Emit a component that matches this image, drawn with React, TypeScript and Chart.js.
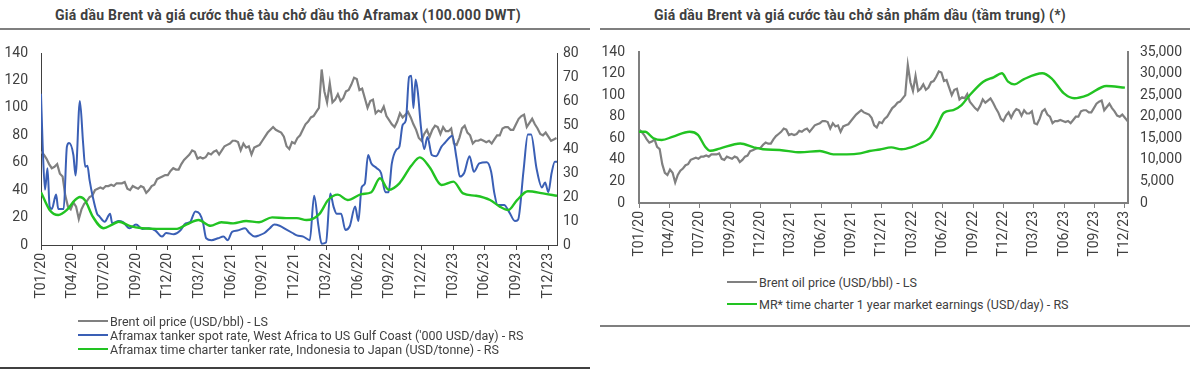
import React, { useEffect, useRef } from 'react';
import { Chart, registerables } from 'chart.js';

Chart.register(...registerables);

// ---------- data ----------
const tickLabels = ['T01/20', 'T04/20', 'T07/20', 'T09/20', 'T12/20', 'T03/21', 'T06/21', 'T09/21', 'T12/21', 'T03/22', 'T06/22', 'T09/22', 'T12/22', 'T03/23', 'T06/23', 'T09/23', 'T12/23'];
const tickStepMonths = 47 / 16; // months between labelled ticks (T01/20 .. T12/23)

const brentLeftTicks = [0, 20, 40, 60, 80, 100, 120, 140];
const aframaxRightTicks = [0, 10, 20, 30, 40, 50, 60, 70, 80];
const mrRightTicks = [0, 5000, 10000, 15000, 20000, 25000, 30000, 35000];

// Brent oil price (USD/bbl), weekly, Jan 2020 - Dec 2023 (4 readings per month)
const brentWeekly = [
  68, 66, 63, 59, 56, 57, 59, 52, 50, 36, 28, 26, 31, 28, 19, 26, 30, 32, 35, 36, 40, 41, 42, 41,
  43, 43, 44, 43, 45, 45, 45, 46, 41, 40, 43, 42, 41, 43, 42, 38, 40, 43, 44, 48, 49, 50, 51, 51,
  54, 56, 55, 55, 59, 62, 64, 66, 69, 68, 63, 64, 63, 64, 67, 66, 68, 69, 66, 69, 72, 73, 74, 76,
  76, 75, 69, 74, 71, 72, 66, 71, 72, 73, 76, 79, 82, 84, 86, 84, 83, 82, 79, 72, 70, 75, 74, 78,
  80, 84, 88, 90, 93, 94, 97, 100, 128, 112, 104, 118, 104, 106, 110, 105, 107, 112, 113, 117, 122, 121, 113, 114,
  107, 100, 105, 106, 96, 98, 97, 101, 94, 91, 88, 86, 90, 96, 93, 95, 97, 93, 88, 84, 78, 76, 81, 84,
  79, 84, 87, 86, 81, 86, 83, 83, 85, 74, 73, 78, 85, 87, 82, 80, 74, 76, 76, 77, 76, 75, 76, 74,
  77, 80, 80, 85, 86, 86, 84, 84, 88, 92, 94, 95, 86, 89, 92, 88, 85, 81, 80, 82, 79, 76, 77, 78,
];
const brentPerMonth = 4;

// Aframax spot rate WAF-USG ('000 USD/day), month offset from Jan 2020 and value
const spotMonths = [
  0, 0.15, 0.37, 0.6, 0.8, 1.0, 1.4, 1.6, 2.1, 2.4, 2.6, 3.0, 3.2, 3.6, 3.9, 4.1, 4.3, 4.5, 4.8, 5.2,
  5.4, 5.9, 6.4, 6.6, 7.2, 7.6, 8.2, 8.8, 9.4, 10.0, 10.6, 11.2, 11.6, 12.3, 12.9, 13.4, 13.8, 14.3, 14.7, 15.0,
  15.3, 15.8, 16.4, 16.9, 17.3, 17.7, 18.2, 18.9, 19.3, 19.8, 20.2, 20.7, 21.2, 21.6, 22.1, 22.7, 23.3, 23.7, 24.3, 24.9,
  25.3, 25.7, 26.0, 26.4, 26.8, 27.1, 27.4, 27.8, 28.2, 28.6, 29.1, 29.4, 29.7, 30.0, 30.3, 30.6, 31.1, 31.5, 31.9, 32.2,
  32.5, 32.9, 33.2, 33.5, 33.8, 34.1, 34.3, 34.5, 34.7, 34.9, 35.2, 35.5, 35.8, 36.2, 36.6, 37.1, 37.4, 37.9, 38.1, 38.5,
  38.8, 39.2, 39.7, 40.1, 40.6, 41.3, 41.7, 42.0, 42.3, 42.9, 43.4, 43.9, 44.2, 44.7, 45.1, 45.4, 45.9, 46.4, 46.7, 47.0,
  47.3, 47.6, 47.8,
];
const spotValues = [
  63, 42, 23, 32, 16, 15, 21, 15, 15, 41, 42.5, 37.5, 29, 60, 42.5, 32.6, 33, 27, 20, 13,
  12, 9.7, 13, 9, 10, 9.5, 7, 8.5, 6.7, 7, 6, 3.5, 5, 4.5, 6, 9, 9.5, 14, 13, 9.5,
  2.8, 2, 2.8, 3.5, 2, 5.5, 6, 7, 5, 3.5, 4, 5, 7, 8.5, 8, 6.5, 5, 4, 3.5, 2,
  20.5, 8, 0.5, 1, 21.5, 16, 13, 13, 6.3, 7.8, 16, 10, 24, 25.6, 37.5, 34, 32, 30, 22, 22,
  34, 39.6, 41, 50, 52, 70, 70.5, 57, 69, 64, 49, 40, 45, 37.5, 37, 41, 42.5, 45, 45.5, 36,
  28.5, 30, 37, 30.5, 34, 34.5, 30.5, 21.5, 16.7, 16.7, 13.5, 10, 10.6, 31, 46, 46, 32, 24, 26, 22,
  30, 34.7, 34.7,
];

// Aframax time charter rate Indonesia-Japan (USD/tonne)
const tcMonths = [
  0, 0.8, 1.6, 2.4, 3.1, 3.6, 4.1, 4.8, 5.8, 6.6, 7.2, 8.2, 9.4, 11.3, 12.6, 13.5, 14.6, 15.7, 16.7, 17.8,
  19.0, 20.2, 21.4, 22.7, 23.7, 24.6, 25.8, 26.6, 27.5, 28.4, 29.7, 30.6, 31.4, 32.2, 33.2, 34.3, 35.1, 36.0, 37.1, 38.2,
  39.1, 40.3, 41.6, 42.5, 43.3, 44.1, 45.1, 46.5, 47.8,
];
const tcValues = [
  22, 14.6, 12.5, 14.6, 18.5, 20, 18.5, 11.8, 7, 8.5, 9.7, 8, 7, 6.7, 6.7, 8.6, 10.4, 8, 9.5, 9,
  10, 9.5, 11.5, 11.2, 11.2, 10.4, 13, 18.75, 21, 18.75, 21.2, 22, 27.8, 23, 25.7, 33, 36.5, 32.4, 25, 26.4,
  21.5, 20.5, 18.75, 16, 14.6, 18.7, 22.4, 21.5, 20.5,
];

// MR time charter 1 year market earnings (USD/day)
const mrMonths = [
  0, 0.6, 1.4, 2.2, 3.3, 4.9, 5.7, 6.4, 6.9, 7.8, 9.8, 11.1, 12.0, 13.6, 15.6, 17.5, 18.8, 20.1, 21.4, 22.3,
  23.3, 24.4, 25.4, 26.3, 27.2, 28.1, 28.8, 29.5, 30.4, 31.2, 32.0, 33.3, 34.3, 35.1, 35.7, 36.3, 37.2, 39.0, 39.9, 41.1,
  42.1, 43.4, 45.2, 47.0,
];
const mrValues = [
  16500, 16500, 15000, 14600, 15400, 16500, 15800, 13050, 12100, 12600, 13800, 12900, 12450, 12300, 11750, 12050, 11280, 11280, 11500, 12050,
  12400, 12900, 12450, 12900, 13800, 15000, 17700, 20930, 21550, 22700, 25030, 28120, 29130, 30060, 28120, 27500, 28670, 30060, 28900, 25400,
  24270, 25030, 27120, 26730,
];

// ---------- styles ----------
const FONT = 'Roboto, "Noto Sans", sans-serif';
const TEXT = '#404040';
const GRAY = '#7f7f7f';
const BLUE = '#3a5fb5';
const GREEN = '#22c322';

const brentPoints = brentWeekly.map((v, i) => ({ x: i / brentPerMonth, y: v }));
const pairs = (xs: number[], ys: number[]) => xs.map((x, i) => ({ x, y: ys[i] }));

function xAxis(max: number, height: number, axisColor: string, axisWidth: number) {
  return {
    type: 'linear',
    min: 0,
    max,
    afterBuildTicks: (s: any) => {
      s.ticks = tickLabels.map((_, k) => ({ value: k * tickStepMonths }));
    },
    afterFit: (s: any) => {
      s.height = height;
    },
    ticks: {
      autoSkip: false,
      minRotation: 90,
      maxRotation: 90,
      padding: 3,
      color: TEXT,
      font: { family: FONT, size: 14 },
      callback: (_v: any, i: number) => tickLabels[i],
    },
    grid: { display: true, drawOnChartArea: false, drawTicks: true, tickLength: 5, color: axisColor, lineWidth: 1 },
    border: { display: true, color: axisColor, width: axisWidth },
  };
}

function yAxis(position: string, max: number, ticks: number[], width: number, padding: number, axisColor: string, axisWidth: number, fmt?: (v: number) => string) {
  return {
    type: 'linear',
    position,
    min: 0,
    max,
    afterBuildTicks: (s: any) => {
      s.ticks = ticks.map((v) => ({ value: v }));
    },
    afterFit: (s: any) => {
      s.width = width;
      s.paddingTop = 0;
      s.paddingBottom = 0;
    },
    ticks: {
      padding,
      color: TEXT,
      font: { family: FONT, size: 14 },
      callback: (v: any) => (fmt ? fmt(v) : String(v)),
    },
    grid: { display: false, drawTicks: false, drawOnChartArea: false },
    border: { display: true, color: axisColor, width: axisWidth },
  };
}

const leftConfig: any = {
  type: 'line',
  data: {
    datasets: [
      { label: 'Brent oil price (USD/bbl) - LS', data: brentPoints, yAxisID: 'y', borderColor: '#808080', borderWidth: 2.2, pointRadius: 0, tension: 0, order: 3 },
      { label: "Aframax tanker spot rate, West Africa to US Gulf Coast ('000 USD/day) - RS", data: pairs(spotMonths, spotValues), yAxisID: 'y1', borderColor: BLUE, borderWidth: 2, pointRadius: 0, cubicInterpolationMode: 'monotone', order: 2 },
      { label: 'Aframax time charter tanker rate, Indonesia to Japan (USD/tonne) - RS', data: pairs(tcMonths, tcValues), yAxisID: 'y1', borderColor: GREEN, borderWidth: 2.4, pointRadius: 0, cubicInterpolationMode: 'monotone', order: 1 },
    ],
  },
  options: {
    responsive: false,
    animation: false,
    layout: { padding: { top: 13, left: 0, right: 0, bottom: 0 } },
    plugins: { legend: { display: false }, title: { display: false }, tooltip: { enabled: false } },
    scales: {
      x: xAxis(47.8, 70, '#404040', 1),
      y: yAxis('left', 140, brentLeftTicks, 41, 13, '#404040', 1),
      y1: yAxis('right', 80, aframaxRightTicks, 43, 6, '#404040', 1),
    },
  },
};

const rightConfig: any = {
  type: 'line',
  data: {
    datasets: [
      { label: 'Brent oil price (USD/bbl) - LS', data: brentPoints, yAxisID: 'y', borderColor: '#808080', borderWidth: 2.2, pointRadius: 0, tension: 0, order: 2 },
      { label: 'MR* time charter 1 year market earnings (USD/day) - RS', data: pairs(mrMonths, mrValues), yAxisID: 'y1', borderColor: GREEN, borderWidth: 2.4, pointRadius: 0, cubicInterpolationMode: 'monotone', order: 1 },
    ],
  },
  options: {
    responsive: false,
    animation: false,
    layout: { padding: { top: 12, left: 0, right: 0, bottom: 0 } },
    plugins: { legend: { display: false }, title: { display: false }, tooltip: { enabled: false } },
    scales: {
      x: xAxis(47.3, 67, GRAY, 2),
      y: yAxis('left', 140, brentLeftTicks, 39, 14, GRAY, 2),
      y1: yAxis('right', 35000, mrRightTicks, 72, 12, GRAY, 2, (v) => Number(v).toLocaleString('en-US')),
    },
  },
};

function ChartBox({ left, top, width, height, config }: any) {
  const ref = useRef<HTMLCanvasElement>(null);
  useEffect(() => {
    const chart = new Chart(ref.current as HTMLCanvasElement, config);
    return () => chart.destroy();
  }, [config]);
  return (
    <canvas ref={ref} width={width} height={height} style={{ position: 'absolute', left, top, width, height }} />
  );
}

function Legend({ left, top, items, gap }: any) {
  return (
    <div style={{ position: 'absolute', left, top }}>
      {items.map((it: any, i: number) => (
        <div key={i} style={{ display: 'flex', alignItems: 'center', height: gap, whiteSpace: 'nowrap' }}>
          <span style={{ display: 'inline-block', width: 30, height: 2.5, background: it.color, marginRight: 2 }} />
          <span style={{ fontFamily: FONT, fontSize: 12.5, color: TEXT }}>{it.label}</span>
        </div>
      ))}
    </div>
  );
}

const titleStyle: any = { position: 'absolute', top: 7, fontFamily: FONT, fontWeight: 700, fontSize: 14, letterSpacing: 0.25, color: TEXT, textAlign: 'center', whiteSpace: 'nowrap' };

export default function App() {
  return (
    <div style={{ position: 'absolute', left: 0, top: 0, width: 1200, height: 370, background: '#fff', overflow: 'hidden' }}>
      {/* Left panel */}
      <div style={{ ...titleStyle, left: 0, width: 576 }}>Giá dầu Brent và giá cước thuê tàu chở dầu thô Aframax (100.000 DWT)</div>
      <div style={{ position: 'absolute', left: 0, top: 28, width: 590, height: 2, background: GRAY }} />
      <ChartBox left={0} top={40} width={600} height={275} config={leftConfig} />
      <Legend
        left={78}
        top={314}
        gap={14}
        items={[
          { color: '#808080', label: 'Brent oil price (USD/bbl) - LS' },
          { color: BLUE, label: "Aframax tanker spot rate, West Africa to US Gulf Coast ('000 USD/day) - RS" },
          { color: GREEN, label: 'Aframax time charter tanker rate, Indonesia to Japan (USD/tonne) - RS' },
        ]}
      />
      <div style={{ position: 'absolute', left: 0, top: 367, width: 590, height: 2, background: '#404040' }} />

      {/* Right panel */}
      <div style={{ ...titleStyle, left: 600, width: 520 }}>Giá dầu Brent và giá cước tàu chở sản phẩm dầu (tầm trung) (*)</div>
      <div style={{ position: 'absolute', left: 600, top: 28, width: 590, height: 2, background: GRAY }} />
      <ChartBox left={600} top={40} width={600} height={230} config={rightConfig} />
      <Legend
        left={727}
        top={271}
        gap={22}
        items={[
          { color: '#808080', label: 'Brent oil price (USD/bbl) - LS' },
          { color: GREEN, label: 'MR* time charter 1 year market earnings (USD/day) - RS' },
        ]}
      />
      <div style={{ position: 'absolute', left: 600, top: 325, width: 590, height: 2, background: GRAY }} />
    </div>
  );
}
